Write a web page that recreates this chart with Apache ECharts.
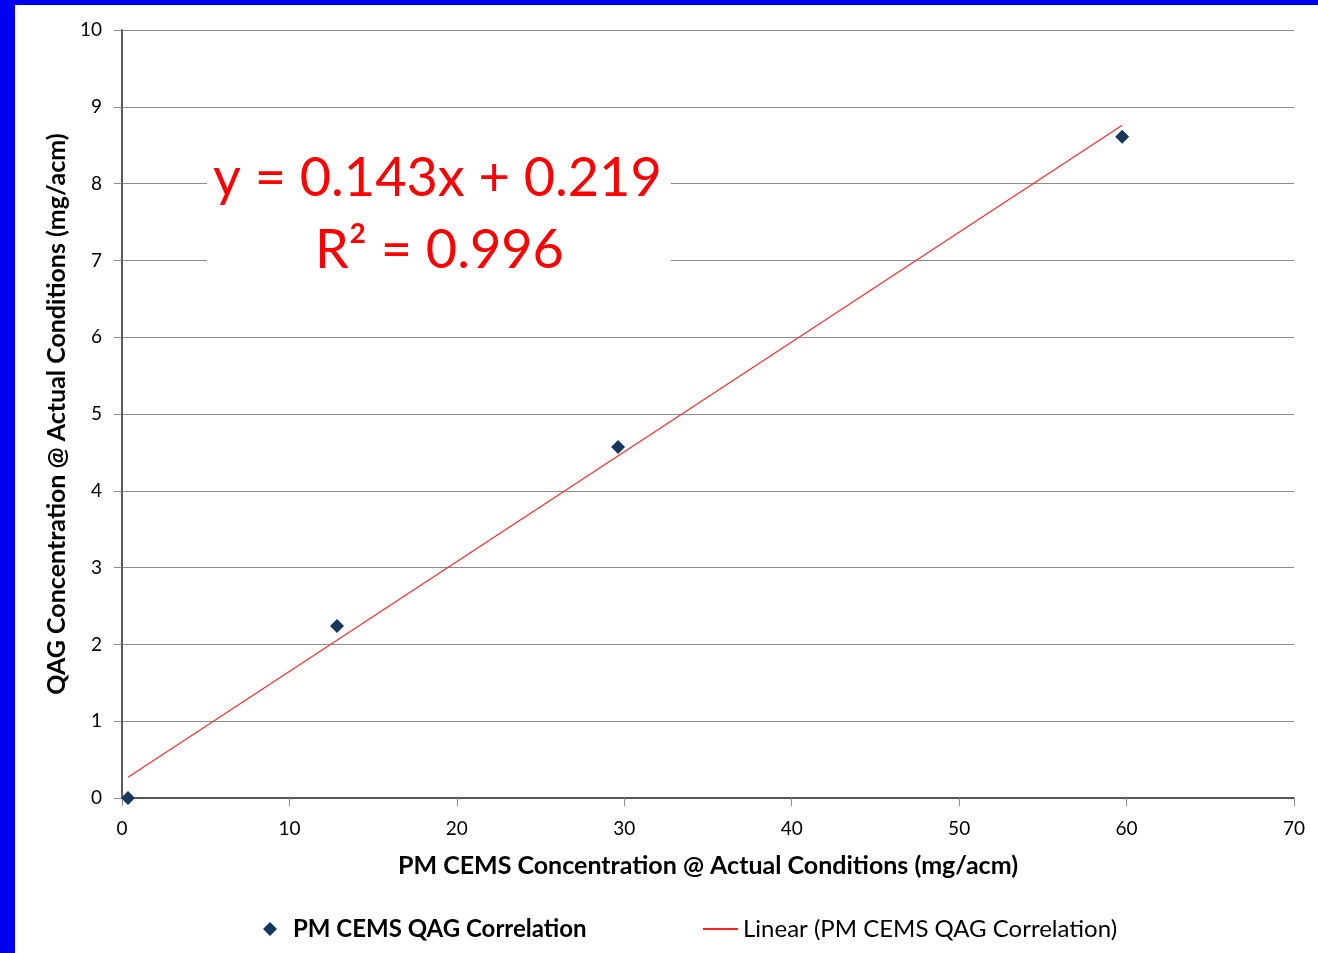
<!DOCTYPE html>
<html><head><meta charset="utf-8">
<script src="https://cdn.jsdelivr.net/npm/echarts@6/dist/echarts.min.js"></script>
<style>
html,body{margin:0;padding:0;width:1318px;height:953px;background:#0000f0;overflow:hidden}
#c{position:absolute;left:15px;top:5px;width:1303px;height:948px;background:#fff}
</style></head><body><div id="c"></div>
<script>
const xTicks = [0,10,20,30,40,50,60,70];
const yTicks = [0,1,2,3,4,5,6,7,8,9,10];
const pointX = [0.36, 12.84, 29.63, 59.74];
const pointY = [0.0, 2.24, 4.57, 8.61];
const trendX = [0.36, 59.74];
const trendY = [0.27, 8.76];
const eqLine1 = 'y = 0.143x + 0.219';
const eqLine2 = 'R² = 0.996';
const xName = 'PM CEMS Concentration @ Actual Conditions (mg/acm)';
const yName = 'QAG Concentration @ Actual Conditions (mg/acm)';
const s1 = 'PM CEMS QAG Correlation';
const s2 = 'Linear (PM CEMS QAG Correlation)';

const FONT = 'Lato';
const NAVY = '#17375e';
const chart = echarts.init(document.getElementById('c'));
chart.setOption({
  animation:false,
  textStyle:{fontFamily:FONT},
  grid:{left:107,right:24,top:25,bottom:155,containLabel:false},
  legend:[{
    top:907, left:243, itemWidth:14, itemHeight:14, selectedMode:false,
    data:[{name:s1, icon:'diamond', itemStyle:{color:NAVY, opacity:1},
      textStyle:{fontWeight:'bold',fontSize:24,color:'#000',fontFamily:FONT,padding:[0,0,0,11]}}]
  },{
    top:907, left:683, itemWidth:35, itemHeight:2, selectedMode:false,
    data:[{name:s2, icon:'rect', itemStyle:{color:'#ff2020'},
      textStyle:{fontWeight:'normal',fontSize:24,color:'#000',fontFamily:FONT}}]
  }],
  xAxis:[{
    type:'value', min:0, max:70, interval:10,
    name:xName, nameLocation:'middle', nameGap:55,
    nameTextStyle:{fontWeight:'bold',fontSize:25,color:'#000',fontFamily:FONT},
    axisLine:{show:true,onZero:false,lineStyle:{color:'#8c8c8c',width:1.5}},
    axisTick:{show:true,length:8,lineStyle:{color:'#8c8c8c'}},
    axisLabel:{fontSize:19,color:'#000',margin:21,formatter:v=>String(v)},
    splitLine:{show:false}
  },{
    type:'value', min:0, max:70, position:'top',
    axisLine:{show:true,lineStyle:{color:'#404040',width:1.5}},
    axisTick:{show:false}, axisLabel:{show:false}, splitLine:{show:false}
  }],
  yAxis:[{
    type:'value', min:0, max:10, interval:1,
    name:yName, nameLocation:'middle', nameGap:52,
    nameTextStyle:{fontWeight:'bold',fontSize:25,color:'#000',fontFamily:FONT},
    axisLine:{show:true,lineStyle:{color:'#8c8c8c',width:1.5}},
    axisTick:{show:true,length:8,lineStyle:{color:'#8c8c8c'}},
    axisLabel:{fontSize:19,color:'#000',margin:20},
    splitLine:{show:true,lineStyle:{color:'#8c8c8c',width:1.2}}
  },{
    type:'value', min:0, max:10, position:'right',
    axisLine:{show:true,lineStyle:{color:'#404040',width:1.5}},
    axisTick:{show:false}, axisLabel:{show:false}, splitLine:{show:false}
  }],
  series:[
    {name:s1, type:'scatter', symbol:'diamond', symbolSize:14, z:4,
     itemStyle:{color:NAVY, opacity:1},
     data:pointX.map((x,i)=>[x,pointY[i]])},
    {name:s2, type:'line', symbol:'none', z:3,
     lineStyle:{color:'#ff3030',width:1.3},
     data:trendX.map((x,i)=>[x,trendY[i]])}
  ],
  graphic:[{
    type:'rect', left:192, top:145, shape:{width:464,height:132}, style:{fill:'#fff'}, z:10
  },{
    type:'text', left:198, top:147, z:11,
    style:{text:eqLine1, fill:'#ff0000', font:'54px '+FONT}
  },{
    type:'text', left:300, top:219, z:11,
    style:{text:eqLine2, fill:'#ff0000', font:'54px '+FONT}
  }]
});
</script></body></html>
